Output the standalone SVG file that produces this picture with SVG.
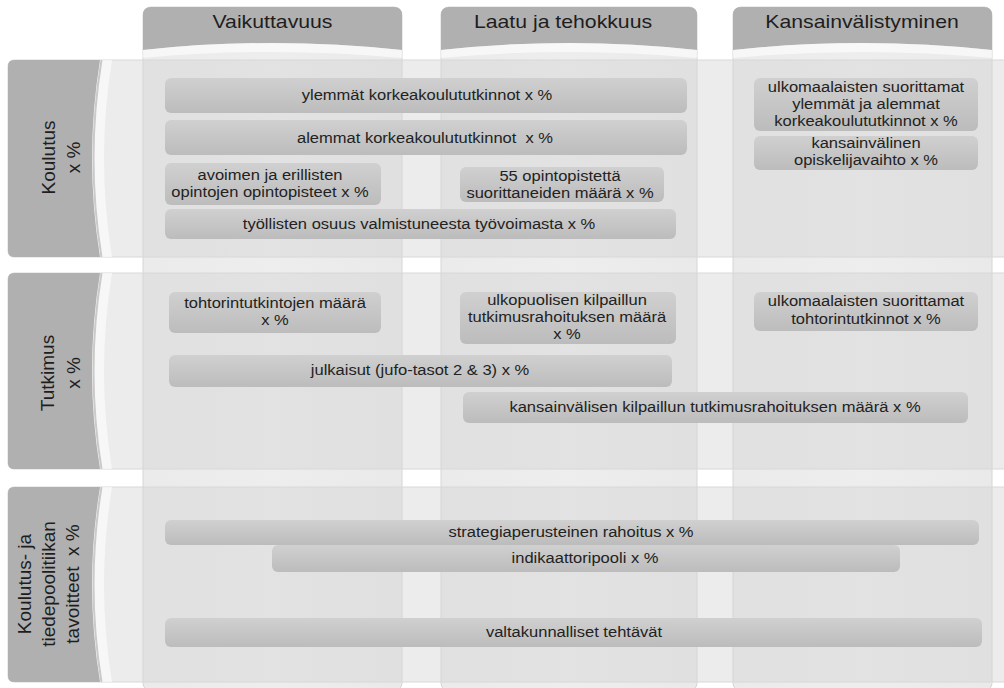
<svg xmlns="http://www.w3.org/2000/svg" width="1004" height="688" viewBox="0 0 1004 688">
<defs>
<linearGradient id="boxg" x1="0" y1="0" x2="0" y2="1">
<stop offset="0" stop-color="#d0d0d0"/>
<stop offset="1" stop-color="#bcbcbc"/>
</linearGradient>
<linearGradient id="colg" x1="0" y1="0" x2="1" y2="0">
<stop offset="0" stop-color="#d2d2d2"/>
<stop offset="0.5" stop-color="#d8d8d8"/>
<stop offset="1" stop-color="#cfcfcf"/>
</linearGradient>
<style>
.col{fill:url(#colg);fill-opacity:0.45;stroke:#d6d6d6;stroke-width:1}
.row{fill:#d4d4d4;fill-opacity:0.45;stroke:#d8d8d8;stroke-width:1}
.hdr{fill:#b0b0b0}
.tab{fill:#b0b0b0}
.hl{fill:#ffffff;fill-opacity:0.6}
.edge{fill:none;stroke:#cacaca;stroke-width:2}
.box{fill:url(#boxg)}
.t{font-family:"Liberation Sans",Arial,sans-serif;font-size:14.5px;fill:#222;text-anchor:middle}
.h{font-family:"Liberation Sans",Arial,sans-serif;font-size:18px;fill:#1e1e1e;text-anchor:middle}
.rl{font-family:"Liberation Sans",Arial,sans-serif;font-size:19px;fill:#1e1e1e;text-anchor:middle}
</style>
</defs>
<rect width="1004" height="688" fill="#ffffff"/>

<g id="columns">
<g id="col-vaikuttavuus">
<rect class="col" x="143" y="7" width="259" height="684" rx="8"/>
<path class="hdr" d="M143,15 Q143,7 151,7 H394 Q402,7 402,15 V50 Q272.5,36 143,50 Z"/>
<path class="hl" d="M143,50 Q272.5,36 402,50 V58 Q272.5,46 143,58 Z"/>
<text class="h" transform="matrix(1.18 0 0 1 272.5 0)" x="0" y="28">Vaikuttavuus</text>
</g>
<g id="col-laatu">
<rect class="col" x="441" y="7" width="256" height="684" rx="8"/>
<path class="hdr" d="M441,15 Q441,7 449,7 H689 Q697,7 697,15 V50 Q569,36 441,50 Z"/>
<path class="hl" d="M441,50 Q569,36 697,50 V58 Q569,46 441,58 Z"/>
<text class="h" transform="matrix(1.18 0 0 1 563 0)" x="0" y="28">Laatu ja tehokkuus</text>
</g>
<g id="col-kansainvalistyminen">
<rect class="col" x="733" y="7" width="259" height="684" rx="8"/>
<path class="hdr" d="M733,15 Q733,7 741,7 H984 Q992,7 992,15 V50 Q862.5,36 733,50 Z"/>
<path class="hl" d="M733,50 Q862.5,36 992,50 V58 Q862.5,46 733,58 Z"/>
<text class="h" transform="matrix(1.18 0 0 1 862 0)" x="0" y="28">Kansainvälistyminen</text>
</g>
</g>

<g id="rows">
<g id="row-koulutus">
<rect class="row" x="8" y="60" width="1010" height="197" rx="6"/>
<path class="hl" d="M100,60 Q84,158.5 100,257 H112 Q96,158.5 112,60 Z"/>
<path class="tab" d="M14,60 H100 Q84,158.5 100,257 H14 Q8,257 8,251 V66 Q8,60 14,60 Z"/>
<path class="edge" d="M101.5,60 Q85.5,158.5 101.5,257"/>
<text class="rl" transform="matrix(0 -1 1 0 55 157.5)"><tspan x="0" y="0">Koulutus</tspan><tspan x="0" y="25">x %</tspan></text>
</g>
<g id="row-tutkimus">
<rect class="row" x="8" y="273" width="1010" height="196" rx="6"/>
<path class="hl" d="M100,273 Q84,371 100,469 H112 Q96,371 112,273 Z"/>
<path class="tab" d="M14,273 H100 Q84,371 100,469 H14 Q8,469 8,463 V279 Q8,273 14,273 Z"/>
<path class="edge" d="M101.5,273 Q85.5,371 101.5,469"/>
<text class="rl" transform="matrix(0 -1 1 0 54 373)"><tspan x="0" y="0">Tutkimus</tspan><tspan x="0" y="26">x %</tspan></text>
</g>
<g id="row-tavoitteet">
<rect class="row" x="8" y="487" width="1010" height="195" rx="6"/>
<path class="hl" d="M100,487 Q84,584.5 100,682 H112 Q96,584.5 112,487 Z"/>
<path class="tab" d="M14,487 H100 Q84,584.5 100,682 H14 Q8,682 8,676 V493 Q8,487 14,487 Z"/>
<path class="edge" d="M101.5,487 Q85.5,584.5 101.5,682"/>
<text class="rl" transform="matrix(0 -1 1 0 31 584)" xml:space="preserve"><tspan x="0" y="0">Koulutus- ja</tspan><tspan x="0" y="24">tiedepoolitiikan</tspan><tspan x="0" y="48">tavoitteet  x %</tspan></text>
</g>
</g>

<g id="connectors"/>

<g id="nodes">
<g id="n-ylemmat">
<rect class="box" x="165" y="78" width="522" height="35" rx="6"/>
<text class="t" transform="matrix(1.14 0 0 1 427 0)" x="0" y="100.5">ylemmät korkeakoulututkinnot x %</text>
</g>
<g id="n-alemmat">
<rect class="box" x="165" y="120" width="522" height="35" rx="6"/>
<text class="t" transform="matrix(1.14 0 0 1 425 0)" x="0" y="143" xml:space="preserve">alemmat korkeakoulututkinnot  x %</text>
</g>
<g id="n-avoimen">
<rect class="box" x="165" y="163" width="216" height="42" rx="6"/>
<text class="t" transform="matrix(1.14 0 0 1 270 0)"><tspan x="0" y="180">avoimen ja erillisten</tspan><tspan x="0" y="197">opintojen opintopisteet x %</tspan></text>
</g>
<g id="n-55op">
<rect class="box" x="460" y="167" width="204" height="35" rx="6"/>
<text class="t" transform="matrix(1.14 0 0 1 560 0)"><tspan x="0" y="181">55 opintopistettä</tspan><tspan x="0" y="198">suorittaneiden määrä x %</tspan></text>
</g>
<g id="n-tyollisten">
<rect class="box" x="165" y="209" width="511" height="30" rx="6"/>
<text class="t" transform="matrix(1.14 0 0 1 419 0)" x="0" y="229">työllisten osuus valmistuneesta työvoimasta x %</text>
</g>
<g id="n-ulkomaalaiset-kk">
<rect class="box" x="754" y="78" width="224" height="53" rx="6"/>
<text class="t" transform="matrix(1.14 0 0 1 866 0)"><tspan x="0" y="92">ulkomaalaisten suorittamat</tspan><tspan x="0" y="109">ylemmät ja alemmat</tspan><tspan x="0" y="126">korkeakoulututkinnot x %</tspan></text>
</g>
<g id="n-vaihto">
<rect class="box" x="754" y="136" width="224" height="34" rx="6"/>
<text class="t" transform="matrix(1.14 0 0 1 866 0)"><tspan x="0" y="148">kansainvälinen</tspan><tspan x="0" y="165">opiskelijavaihto x %</tspan></text>
</g>
<g id="n-tohtorit">
<rect class="box" x="169" y="292" width="212" height="41" rx="6"/>
<text class="t" transform="matrix(1.14 0 0 1 275 0)"><tspan x="0" y="308">tohtorintutkintojen määrä</tspan><tspan x="0" y="325">x %</tspan></text>
</g>
<g id="n-ulkopuolinen">
<rect class="box" x="460" y="292" width="216" height="52" rx="6"/>
<text class="t" transform="matrix(1.14 0 0 1 567 0)"><tspan x="0" y="305">ulkopuolisen kilpaillun</tspan><tspan x="0" y="322">tutkimusrahoituksen määrä</tspan><tspan x="0" y="339">x %</tspan></text>
</g>
<g id="n-ulkomaalaiset-tohtorit">
<rect class="box" x="754" y="292" width="224" height="39" rx="6"/>
<text class="t" transform="matrix(1.14 0 0 1 866 0)"><tspan x="0" y="306">ulkomaalaisten suorittamat</tspan><tspan x="0" y="324">tohtorintutkinnot x %</tspan></text>
</g>
<g id="n-julkaisut">
<rect class="box" x="169" y="355" width="503" height="32" rx="6"/>
<text class="t" transform="matrix(1.14 0 0 1 420 0)" x="0" y="375">julkaisut (jufo-tasot 2 &amp; 3) x %</text>
</g>
<g id="n-kansainvalinen-rahoitus">
<rect class="box" x="463" y="392" width="505" height="31" rx="6"/>
<text class="t" transform="matrix(1.14 0 0 1 715 0)" x="0" y="412">kansainvälisen kilpaillun tutkimusrahoituksen määrä x %</text>
</g>
<g id="n-strategia">
<rect class="box" x="165" y="520" width="814" height="25" rx="6"/>
<text class="t" transform="matrix(1.14 0 0 1 571 0)" x="0" y="537">strategiaperusteinen rahoitus x %</text>
</g>
<g id="n-indikaattori">
<rect class="box" x="272" y="545" width="628" height="27" rx="6"/>
<text class="t" transform="matrix(1.14 0 0 1 585 0)" x="0" y="563">indikaattoripooli x %</text>
</g>
<g id="n-valtakunnalliset">
<rect class="box" x="165" y="618" width="817" height="29" rx="6"/>
<text class="t" transform="matrix(1.14 0 0 1 574 0)" x="0" y="637">valtakunnalliset tehtävät</text>
</g>
</g>
</svg>
